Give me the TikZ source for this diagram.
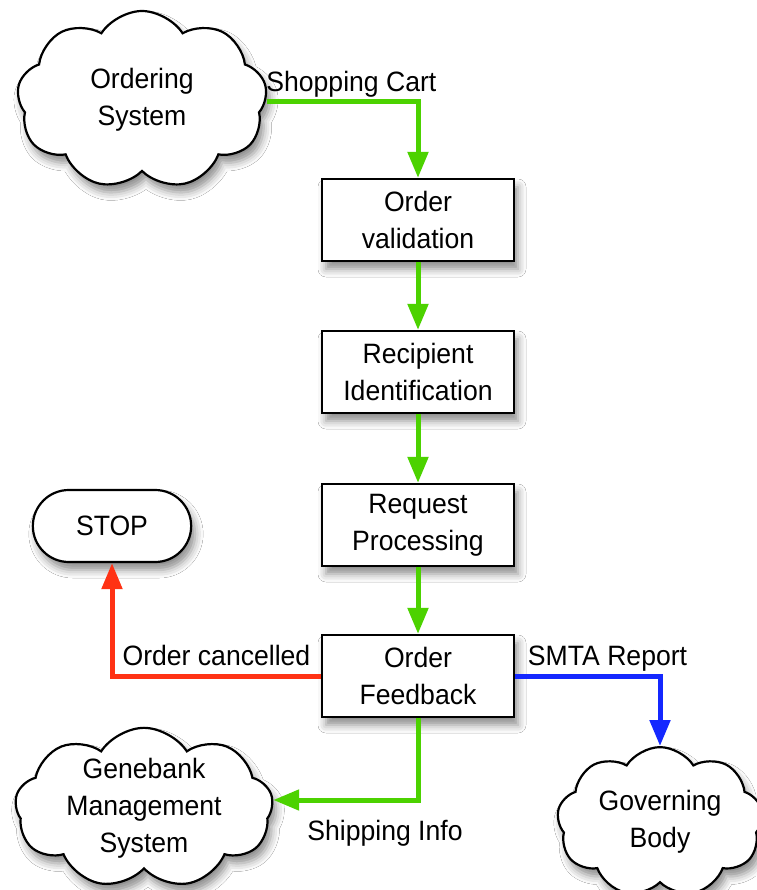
\documentclass[tikz,border=0pt]{standalone}
\usepackage{fontspec}
\setmainfont{Liberation Sans}[FakeStretch=0.95]
\usetikzlibrary{shapes.symbols,shapes.misc,arrows.meta,shadows.blur}
\definecolor{fgreen}{RGB}{76,210,0}
\definecolor{fred}{RGB}{255,50,20}
\definecolor{fblue}{RGB}{20,40,255}
\begin{document}
\begin{tikzpicture}[x=1pt,y=-1pt,
  every node/.style={font=\fontsize{28}{37}\selectfont, align=center},
  shad/.style={blur shadow={shadow xshift=4pt, shadow yshift=-8pt, shadow blur radius=8pt, shadow opacity=45}},
  stepbox/.style={draw, line width=2.2pt, fill=white, minimum width=192pt, minimum height=82pt, inner sep=2pt, shad},
  cloudbox/.style={cloud, cloud puffs=9, cloud puff arc=115, draw, line width=2.2pt, fill=white, shad},
  termbox/.style={draw, rounded rectangle, line width=2.2pt, fill=white, minimum width=165pt, minimum height=72pt, shad},
  flow/.style={line width=5pt, -{Triangle[length=26pt,width=20pt]}},
  lbl/.style={anchor=base, text=black, font=\fontsize{28}{37}\selectfont}
]
\useasboundingbox (0,0) rectangle (756,890);
\fill[white] (0,0) rectangle (756,890);

\node[cloudbox, inner xsep=0pt, inner ysep=-10pt, minimum width=250pt, minimum height=178pt] (os) at (142,100) {Ordering\\System};
\node[stepbox] (ov) at (418,220) {Order\\validation};
\node[stepbox] (ri) at (418,372) {Recipient\\Identification};
\node[stepbox] (rp) at (418,525) {Request\\Processing};
\node[stepbox] (fb) at (418,676) {Order\\Feedback};
\node[termbox] (stop) at (112,526) {STOP};
\node[cloudbox, aspect=1.5, inner xsep=-8pt, inner ysep=-40pt, minimum width=258pt, minimum height=100pt] (gms) at (144,808) {Genebank\\Management\\System};
\node[cloudbox, aspect=1.25, inner xsep=-5pt, inner ysep=-25pt, minimum width=206pt, minimum height=100pt] (gov) at (660,822) {Governing\\Body};

\draw[flow, fgreen] (os.east |- 0,102) -| node[pos=0.28, lbl, yshift=10pt] {Shopping Cart} (ov.north);
\draw[flow, fgreen] (ov) -- (ri);
\draw[flow, fgreen] (ri) -- (rp);
\draw[flow, fgreen] (rp) -- (fb);
\draw[flow, fred] (fb.west) -| node[pos=0.25, lbl, yshift=11pt] {Order cancelled} (stop.south);
\draw[flow, fblue] (fb.east) -| node[pos=0.25, lbl, yshift=11pt, xshift=20pt] {SMTA Report} (gov.north);
\draw[flow, fgreen] (fb.south) |- node[pos=0.5, lbl, yshift=-40pt, xshift=-33pt] {Shipping Info} (gms.east |- 0,800);
\end{tikzpicture}
\end{document}
